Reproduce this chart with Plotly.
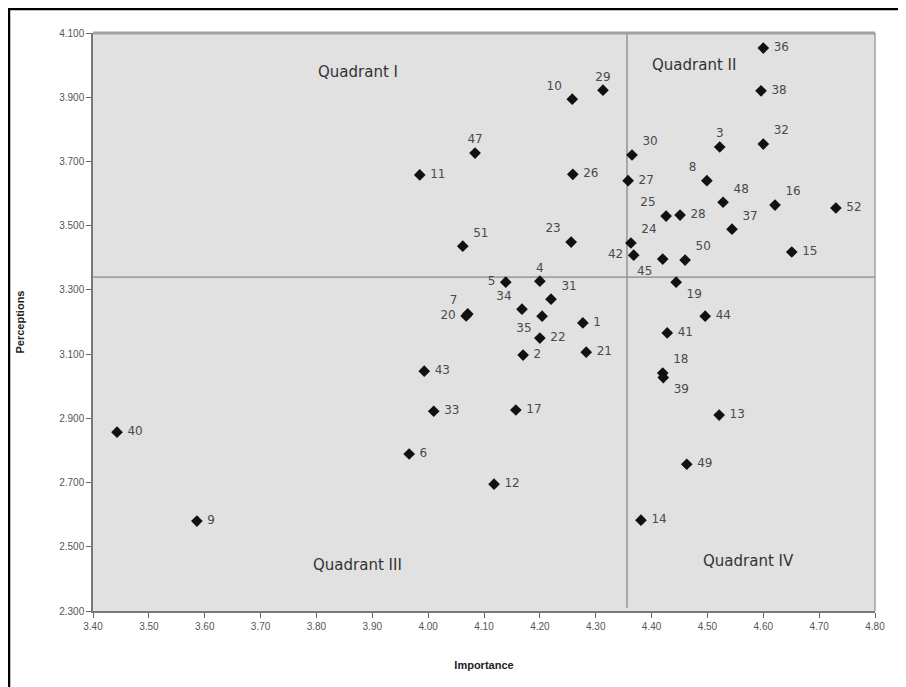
import plotly.graph_objects as go

item_ids = [36, 38, 10, 29, 30, 3, 32, 47, 11, 26, 27, 8, 48, 16, 52, 25, 28, 37,
            24, 42, 45, 50, 15, 23, 51, 4, 5, 31, 34, 35, 7, 20, 1, 22, 2, 21, 43,
            19, 44, 41, 18, 39, 13, 49, 14, 33, 17, 6, 12, 40, 9]
importance = [4.60, 4.596, 4.258, 4.313, 4.365, 4.522, 4.60, 4.084, 3.985, 4.259,
              4.358, 4.499, 4.528, 4.621, 4.730, 4.426, 4.451, 4.544,
              4.363, 4.368, 4.420, 4.460, 4.651, 4.256, 4.062, 4.200, 4.139,
              4.220, 4.168, 4.204, 4.071, 4.068, 4.277, 4.200, 4.170, 4.283, 3.993,
              4.444, 4.496, 4.428, 4.420, 4.421, 4.521, 4.463, 4.381, 4.010, 4.157,
              3.966, 4.118, 3.443, 3.586]
perceptions = [4.053, 3.920, 3.894, 3.922, 3.720, 3.745, 3.754, 3.726, 3.658, 3.660,
               3.640, 3.640, 3.573, 3.564, 3.555, 3.530, 3.533, 3.489,
               3.446, 3.408, 3.396, 3.393, 3.418, 3.449, 3.436, 3.327, 3.324,
               3.271, 3.240, 3.218, 3.225, 3.219, 3.197, 3.150, 3.097, 3.106, 3.047,
               3.324, 3.218, 3.166, 3.041, 3.027, 2.910, 2.757, 2.583, 2.922, 2.926,
               2.789, 2.695, 2.857, 2.580]

label_pos = ["middle right", "middle right", "top left", "top center", "top right",
             "top center", "top right", "top center", "middle right", "middle right",
             "middle right", "top left", "top right", "top right", "middle right",
             "top left", "middle right", "top right",
             "top right", "middle left", "bottom left", "top right", "middle right",
             "top left", "top right", "top center", "middle left",
             "top right", "top left", "bottom left", "top left", "middle left",
             "middle right", "middle right", "middle right", "middle right", "middle right",
             "bottom right", "middle right", "middle right", "top right", "bottom right",
             "middle right", "middle right", "middle right", "middle right", "middle right",
             "middle right", "middle right", "middle right", "middle right"]

x_ticks = [3.40 + 0.1 * i for i in range(15)]
y_ticks = [2.3 + 0.2 * i for i in range(10)]
mean_importance = 4.356
mean_perception = 3.340

quadrants = [("Quadrant I", 3.874, 3.979), ("Quadrant II", 4.476, 4.000),
             ("Quadrant III", 3.873, 2.443), ("Quadrant IV", 4.573, 2.455)]

fig = go.Figure()
fig.add_trace(go.Scatter(
    x=importance, y=perceptions, mode="markers+text",
    text=[f" {i} " for i in item_ids], textposition=label_pos,
    textfont=dict(family="DejaVu Sans", size=12, color="#4a4a4a"),
    marker=dict(symbol="diamond", size=9, color="#111111"),
    hoverinfo="skip", showlegend=False, cliponaxis=False,
))

# quadrant lines
fig.add_shape(type="line", x0=mean_importance, x1=mean_importance, y0=2.31, y1=4.1,
              line=dict(color="#888888", width=1.3), layer="below")
fig.add_shape(type="line", x0=3.40, x1=4.80, y0=mean_perception, y1=mean_perception,
              line=dict(color="#888888", width=1.3), layer="below")

for name, qx, qy in quadrants:
    fig.add_annotation(x=qx, y=qy, text=name, showarrow=False,
                       font=dict(family="DejaVu Sans", size=15, color="#333333"))

# outer frame
fig.add_shape(type="rect", xref="paper", yref="paper", x0=-0.1074, x1=1.06,
              y0=-0.16, y1=1.0415, line=dict(color="black", width=2.5))

fig.update_layout(
    width=898, height=679,
    margin=dict(l=85, r=31, t=25, b=76),
    paper_bgcolor="white", plot_bgcolor="#e1e1e1",
    font=dict(family="Liberation Sans, Arial", size=10, color="#555555"),
    xaxis=dict(range=[3.40, 4.80], tickvals=x_ticks, tickformat=".2f",
               ticks="outside", ticklen=5, tickcolor="#666666",
               showgrid=False, zeroline=False, showline=True, linecolor="#777777",
               linewidth=1.5, mirror=False,
               title=dict(text="<b>Importance</b>", standoff=31,
                          font=dict(size=11, color="#222222"))),
    yaxis=dict(range=[2.3, 4.1], tickvals=y_ticks, tickformat=".3f",
               ticks="outside", ticklen=5, tickcolor="#666666",
               showgrid=False, zeroline=False, showline=True, linecolor="#777777",
               linewidth=1.5,
               title=dict(text="<b>Perceptions</b>", standoff=32,
                          font=dict(size=11, color="#222222"))),
)

# plot area top and right borders
fig.add_shape(type="line", xref="paper", yref="paper", x0=0, x1=1, y0=1, y1=1,
              line=dict(color="#a0a0a0", width=3))
fig.add_shape(type="line", xref="paper", yref="paper", x0=1, x1=1, y0=0, y1=1,
              line=dict(color="#a0a0a0", width=1.5))

fig.write_html("out.html")
